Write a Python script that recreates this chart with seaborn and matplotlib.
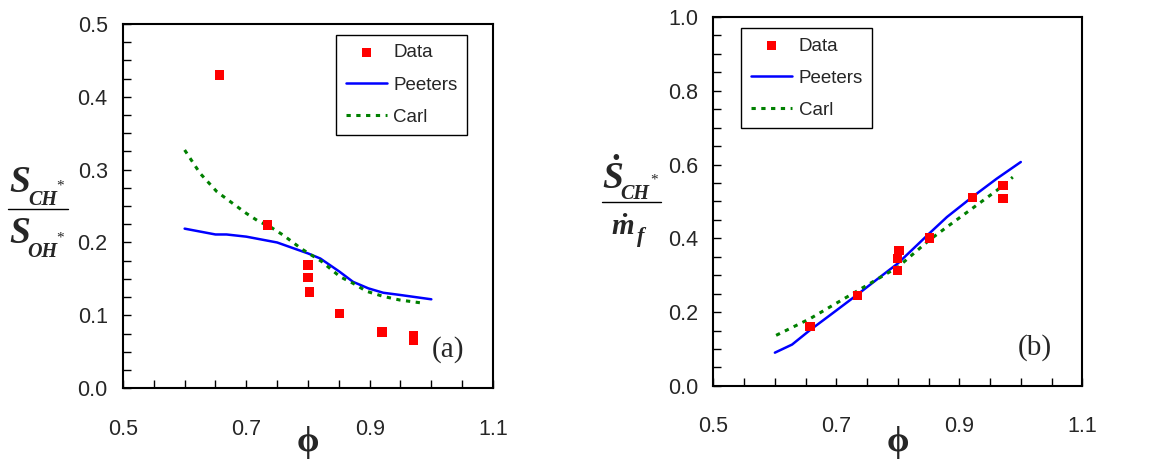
import numpy as np
import matplotlib
matplotlib.use("Agg")
import matplotlib.pyplot as plt
import seaborn as sns
from matplotlib.ticker import MultipleLocator, FixedLocator
from matplotlib.lines import Line2D

sns.set_style("ticks")
plt.rcParams["font.family"] = ["Liberation Sans", "DejaVu Sans"]

# Panel (a): S_CH* / S_OH* vs phi
a_data_phi = [0.656, 0.734, 0.800, 0.800, 0.803, 0.851, 0.920, 0.971, 0.971]
a_data_val = [0.430, 0.224, 0.169, 0.152, 0.132, 0.102, 0.077, 0.072, 0.066]
a_peeters_phi = [0.60, 0.625, 0.65, 0.668, 0.70, 0.75, 0.80, 0.82, 0.851, 0.873, 0.898, 0.922, 0.949, 1.0]
a_peeters_val = [0.219, 0.215, 0.211, 0.211, 0.208, 0.200, 0.185, 0.178, 0.160, 0.146, 0.137, 0.131, 0.128, 0.122]
a_carl_phi = [0.60, 0.625, 0.652, 0.671, 0.70, 0.72, 0.738, 0.76, 0.79, 0.822, 0.852, 0.873, 0.895, 0.922, 0.949, 0.984]
a_carl_val = [0.327, 0.295, 0.270, 0.258, 0.240, 0.229, 0.222, 0.210, 0.191, 0.174, 0.153, 0.144, 0.133, 0.126, 0.121, 0.117]

# Panel (b): dS_CH* / dm_f vs phi
b_data_phi = [0.657, 0.7345, 0.800, 0.800, 0.802, 0.851, 0.921, 0.971, 0.971]
b_data_val = [0.162, 0.244, 0.313, 0.345, 0.366, 0.401, 0.510, 0.544, 0.507]
b_peeters_phi = [0.60, 0.628, 0.657, 0.69, 0.733, 0.771, 0.80, 0.851, 0.88, 0.921, 0.961, 1.0]
b_peeters_val = [0.090, 0.112, 0.151, 0.192, 0.246, 0.295, 0.332, 0.413, 0.458, 0.512, 0.562, 0.607]
b_carl_phi = [0.602, 0.657, 0.704, 0.75, 0.80, 0.851, 0.88, 0.921, 0.961, 0.987]
b_carl_val = [0.137, 0.182, 0.228, 0.273, 0.322, 0.395, 0.431, 0.481, 0.530, 0.566]

x_ticks = [0.5, 0.7, 0.9, 1.1]

W, H = 1160, 461
fig = plt.figure(figsize=(W / 100, H / 100), dpi=100)
ax_a = fig.add_axes([0.106, 0.158, 0.319, 0.790])
ax_b = fig.add_axes([0.615, 0.163, 0.318, 0.800])


def draw_panel(ax, d_phi, d_val, p_phi, p_val, c_phi, c_val, ymax, ymaj, ymin):
    sns.scatterplot(x=d_phi, y=d_val, ax=ax, marker="s", s=44, color="#ff0000",
                    edgecolor="none", label="Data", zorder=3)
    sns.lineplot(x=p_phi, y=p_val, ax=ax, color="#0000ff", lw=1.8, label="Peeters")
    sns.lineplot(x=c_phi, y=c_val, ax=ax, color="#008000", lw=2.2,
                 linestyle=(0, (1.4, 1.8)), label="Carl")
    ax.set_xlim(0.5, 1.1)
    ax.set_ylim(0, ymax)
    ax.xaxis.set_major_locator(FixedLocator(x_ticks))
    ax.xaxis.set_minor_locator(MultipleLocator(0.05))
    ax.yaxis.set_major_locator(MultipleLocator(ymaj))
    ax.yaxis.set_minor_locator(MultipleLocator(ymin))
    ax.yaxis.set_major_formatter(plt.FormatStrFormatter("%.1f"))
    ax.xaxis.set_major_formatter(plt.FormatStrFormatter("%.1f"))
    ax.tick_params(axis="both", which="both", direction="in", color="black",
                   width=1.0, length=6, top=False, right=False)
    ax.tick_params(axis="both", which="major", labelsize=15.5)
    ax.tick_params(axis="x", which="major", pad=22)
    ax.tick_params(axis="y", which="major", pad=11)
    for sp in ax.spines.values():
        sp.set_color("black")
        sp.set_linewidth(1.5)
    ax.set_xlabel("ϕ", family=["Liberation Serif", "DejaVu Serif"], fontsize=26,
                  fontweight="bold")
    ax.xaxis.label.set_va("top")
    ax.set_ylabel("")


draw_panel(ax_a, a_data_phi, a_data_val, a_peeters_phi, a_peeters_val,
           a_carl_phi, a_carl_val, 0.5, 0.1, 0.025)
draw_panel(ax_b, b_data_phi, b_data_val, b_peeters_phi, b_peeters_val,
           b_carl_phi, b_carl_val, 1.0, 0.2, 0.05)

ax_a.xaxis.set_label_coords(0.5, -0.105)
ax_b.xaxis.set_label_coords(0.5, -0.11)


# fraction-style y labels built from text pieces (pixel positions)
def ftext(x, y, s, size, **kw):
    kw.setdefault("family", ["Liberation Serif", "DejaVu Serif"])
    kw.setdefault("fontweight", "bold")
    kw.setdefault("fontstyle", "italic")
    fig.text(x / W, 1 - y / H, s, fontsize=size, va="baseline", ha="left", **kw)


def star(x, y):
    fig.text(x / W, 1 - y / H, "*", fontsize=11, va="center", ha="left",
             family=["Liberation Serif", "DejaVu Serif"])


def frac_line(x0, x1, y):
    fig.add_artist(Line2D([x0 / W, x1 / W], [1 - y / H, 1 - y / H],
                          color="black", lw=1.0, transform=fig.transFigure))


# panel (a) label
ftext(9, 192, "S", 27)
ftext(28, 205, "CH", 14.5)
star(56, 186)
frac_line(8, 68, 209)
ftext(9, 243, "S", 27)
ftext(27, 257, "OH", 14.5)
star(56, 238)

# panel (b) label
ftext(602, 188, "Ṡ", 27)
ftext(620, 199, "CH", 14.5)
star(650, 180)
frac_line(602, 661, 202)
ftext(611, 234, "ṁ", 21)
ftext(637, 242, "f", 16)

ax_a.text(0.878, 0.105, "(a)", transform=ax_a.transAxes,
          family="Liberation Serif", fontsize=21, ha="center", va="center")
ax_b.text(0.87, 0.105, "(b)", transform=ax_b.transAxes,
          family="Liberation Serif", fontsize=21, ha="center", va="center")

legend_kw = dict(fontsize=13.5, frameon=True, fancybox=False, handlelength=2.2,
                 handletextpad=0.35, borderpad=0.5, labelspacing=0.8,
                 borderaxespad=0)
leg_a = ax_a.legend(loc="upper right", bbox_to_anchor=(0.930, 0.970), **legend_kw)
leg_b = ax_b.legend(loc="upper left", bbox_to_anchor=(0.076, 0.970), **legend_kw)
for leg in (leg_a, leg_b):
    leg.get_frame().set_edgecolor("black")
    leg.get_frame().set_linewidth(1.0)
    leg.get_frame().set_alpha(1)

fig.savefig("out.png", dpi=100)
